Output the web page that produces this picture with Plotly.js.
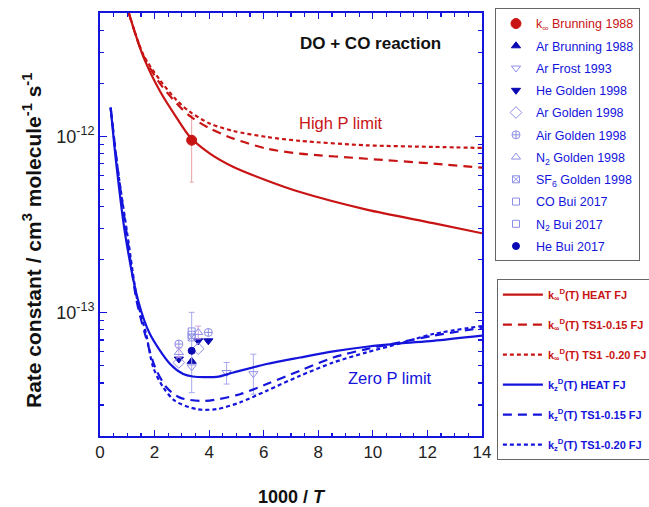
<!DOCTYPE html>
<html>
<head>
<meta charset="utf-8">
<script src="https://cdn.plot.ly/plotly-3.0.1.min.js"></script>
<style>html,body{margin:0;padding:0;background:#fff;}#chart{width:649px;height:507px;}</style>
</head>
<body>
<div id="chart"></div>
<script>
// ---------- theory curves: high-pressure limit (k_inf) ----------
const xRed = [1.04, 1.59, 2.20, 2.81, 3.30, 4.03, 4.89, 6.11, 7.33, 9.77, 12.21, 14.0];
const kInfHeat = [5.09e-12, 2.82e-12, 1.80e-12, 1.273e-12, 9.91e-13, 7.98e-13, 6.70e-13, 5.62e-13, 4.83e-13, 3.84e-13, 3.22e-13, 2.82e-13];
const kInfTS015 = [5.09e-12, 2.86e-12, 1.99e-12, 1.535e-12, 1.30e-12, 1.107e-12, 9.70e-13, 8.51e-13, 7.98e-13, 7.46e-13, 7.00e-13, 6.64e-13];
const kInfTS020 = [5.09e-12, 2.90e-12, 2.08e-12, 1.60e-12, 1.374e-12, 1.180e-12, 1.072e-12, 9.91e-13, 9.42e-13, 8.89e-13, 8.71e-13, 8.59e-13];

// ---------- theory curves: zero-pressure limit (k_z) ----------
const xZHeat = [0.39, 0.61, 0.92, 1.40, 1.83, 2.57, 3.05, 3.40, 4.28, 4.89, 6.11, 7.33, 8.55, 9.77, 10.99, 12.21, 14.0];
const kZHeat = [1.455e-12, 6.70e-13, 2.80e-13, 1.17e-13, 7.57e-14, 5.12e-14, 4.49e-14, 4.35e-14, 4.33e-14, 4.58e-14, 5.12e-14, 5.57e-14, 6.03e-14, 6.41e-14, 6.70e-14, 6.93e-14, 7.41e-14];
const xZTS015 = [0.39, 0.64, 0.98, 1.34, 1.65, 2.02, 2.44, 2.93, 3.85, 5.13, 6.11, 7.33, 8.55, 9.77, 10.99, 12.21, 14.0];
const kZTS015 = [1.455e-12, 6.70e-13, 2.80e-13, 1.17e-13, 7.57e-14, 4.90e-14, 3.77e-14, 3.30e-14, 3.16e-14, 3.45e-14, 3.94e-14, 4.69e-14, 5.57e-14, 6.22e-14, 6.79e-14, 7.40e-14, 8.22e-14];
const xZTS020 = [0.39, 0.64, 1.00, 1.37, 1.69, 1.95, 2.32, 2.75, 3.54, 4.28, 5.13, 6.11, 7.33, 8.55, 9.77, 10.99, 12.21, 14.0];
const kZTS020 = [1.455e-12, 6.70e-13, 2.80e-13, 1.17e-13, 7.57e-14, 4.90e-14, 3.77e-14, 3.16e-14, 2.84e-14, 2.84e-14, 3.10e-14, 3.61e-14, 4.39e-14, 5.22e-14, 5.96e-14, 6.70e-14, 7.57e-14, 8.41e-14];

// ---------- experimental data ----------
const kinfBrunningX = [3.36];
const kinfBrunningY = [9.5e-13];
const kinfBrunningHi = [1.31e-12];
const kinfBrunningLo = [5.5e-13];

const arBrunningX = [3.36];
const arBrunningY = [5.3e-14];

const arFrostX = [3.36, 4.64, 5.62];
const arFrostY = [4.93e-14, 4.58e-14, 4.51e-14];
const arFrostHi = [1.005e-13, 5.22e-14, 5.82e-14];
const arFrostLo = [3.52e-14, 3.94e-14, 3.45e-14];

const heGoldenX = [2.89, 3.60, 3.97];
const heGoldenY = [5.46e-14, 6.93e-14, 6.93e-14];

const arGoldenX = [2.89, 3.60];
const arGoldenY = [5.22e-14, 6.25e-14];

const airGoldenX = [2.89, 3.97];
const airGoldenY = [6.64e-14, 7.73e-14];

const n2GoldenX = [2.89, 3.60];
const n2GoldenY = [5.95e-14, 7.73e-14];
const n2GoldenHi = [6.3e-14, 8.4e-14];
const n2GoldenLo = [5.6e-14, 7.1e-14];

const sf6GoldenX = [3.36];
const sf6GoldenY = [7.24e-14];

const coBuiX = [3.36];
const coBuiY = [7.83e-14];

const n2BuiX = [3.36];
const n2BuiY = [7.5e-14];

const heBuiX = [3.36];
const heBuiY = [6.08e-14];

// ---------- labels ----------
const xTickVals = [0, 2, 4, 6, 8, 10, 12, 14];
const yTickVals = [1e-13, 1e-12];
const yTickText = ['10<sup>-13</sup>', '10<sup>-12</sup>'];
const yMinorVals = [2e-14, 3e-14, 4e-14, 5e-14, 6e-14, 7e-14, 8e-14, 9e-14,
                    2e-13, 3e-13, 4e-13, 5e-13, 6e-13, 7e-13, 8e-13, 9e-13,
                    2e-12, 3e-12, 4e-12, 5e-12];

const RED = '#c81414';
const BLUE = '#1414dc';
const DARKBLUE = '#0a0ab4';
const LIGHT = '#8f8fe6';
const FONT = 'Liberation Sans, Arial, sans-serif';

function errs(y, hi, lo) {
  return {
    type: 'data', symmetric: false,
    array: y.map((v, i) => hi[i] - v),
    arrayminus: y.map((v, i) => v - lo[i])
  };
}
let gid = 0;
function pts(name, x, y, symbol, color, size, extra) {
  gid++;
  return Object.assign({
    type: 'scatter', mode: 'markers', name: name, x: x, y: y,
    marker: {symbol: symbol, color: color, size: size, line: {color: color, width: 1}},
    legend: 'legend', legendgroup: 'g' + gid
  }, extra || {});
}
function line(name, x, y, color, dash) {
  gid++;
  return {
    type: 'scatter', mode: 'lines', name: name, x: x, y: y,
    line: {color: color, width: 2.2, dash: dash, shape: 'spline', smoothing: 0.8},
    legend: 'legend2', legendgroup: 'g' + gid
  };
}
const lbl = (c, t) => '<span style="color:' + c + '">' + t + '</span>';

const traces = [
  pts(lbl(RED, 'k<sub>∞</sub> Brunning 1988'), kinfBrunningX, kinfBrunningY, 'circle', RED, 10,
      {error_y: Object.assign(errs(kinfBrunningY, kinfBrunningHi, kinfBrunningLo), {color: '#e8a0a0', thickness: 1, width: 2})}),
  pts(lbl(BLUE, 'Ar Brunning 1988'), arBrunningX, arBrunningY, 'triangle-up', DARKBLUE, 8),
  pts(lbl(BLUE, 'Ar Frost 1993'), arFrostX, arFrostY, 'triangle-down-open', LIGHT, 8,
      {error_y: Object.assign(errs(arFrostY, arFrostHi, arFrostLo), {color: '#a8a8ee', thickness: 1, width: 3})}),
  pts(lbl(BLUE, 'He Golden 1998'), heGoldenX, heGoldenY, 'triangle-down', DARKBLUE, 8),
  pts(lbl(BLUE, 'Ar Golden 1998'), arGoldenX, arGoldenY, 'diamond-open', LIGHT, 9),
  pts(lbl(BLUE, 'Air Golden 1998'), airGoldenX, airGoldenY, 'circle-cross-open', LIGHT, 8),
  pts(lbl(BLUE, 'N<sub>2</sub> Golden 1998'), n2GoldenX, n2GoldenY, 'triangle-up-open', LIGHT, 8,
      {error_y: Object.assign(errs(n2GoldenY, n2GoldenHi, n2GoldenLo), {color: '#d0a0e0', thickness: 1, width: 3})}),
  pts(lbl(BLUE, 'SF<sub>6</sub> Golden 1998'), sf6GoldenX, sf6GoldenY, 'square-x-open', LIGHT, 7),
  pts(lbl(BLUE, 'CO Bui 2017'), coBuiX, coBuiY, 'square-open', LIGHT, 7),
  pts(lbl(BLUE, 'N<sub>2</sub> Bui 2017'), n2BuiX, n2BuiY, 'square-open', LIGHT, 7),
  pts(lbl(BLUE, 'He Bui 2017'), heBuiX, heBuiY, 'circle', DARKBLUE, 7),

  line(lbl(RED, '<b>k<sub>∞</sub><sup>D</sup>(T) HEAT FJ</b>'), xRed, kInfHeat, RED, 'solid'),
  line(lbl(RED, '<b>k<sub>∞</sub><sup>D</sup>(T) TS1-0.15 FJ</b>'), xRed, kInfTS015, RED, '9px,6px'),
  line(lbl(RED, '<b>k<sub>∞</sub><sup>D</sup>(T) TS1 -0.20 FJ</b>'), xRed, kInfTS020, RED, '4px,3px'),
  line(lbl(BLUE, '<b>k<sub>z</sub><sup>D</sup>(T) HEAT FJ</b>'), xZHeat, kZHeat, BLUE, 'solid'),
  line(lbl(BLUE, '<b>k<sub>z</sub><sup>D</sup>(T) TS1-0.15 FJ</b>'), xZTS015, kZTS015, BLUE, '9px,6px'),
  line(lbl(BLUE, '<b>k<sub>z</sub><sup>D</sup>(T) TS1-0.20 FJ</b>'), xZTS020, kZTS020, BLUE, '4px,3px')
];

const layout = {
  width: 649, height: 507,
  margin: {l: 100, r: 167, t: 13, b: 71, autoexpand: false},
  paper_bgcolor: '#fff', plot_bgcolor: '#fff',
  font: {family: FONT, size: 17, color: '#222'},
  showlegend: true,
  xaxis: {
    range: [0, 14], tickvals: xTickVals, ticks: 'inside', ticklen: 6, tickwidth: 1.2, tickcolor: BLUE,
    showline: true, linecolor: BLUE, linewidth: 2, mirror: 'allticks', showgrid: false, zeroline: false,
    tickfont: {size: 17, color: '#222'},
    minor: {dtick: 0.5, ticks: 'inside', ticklen: 3.5, tickcolor: BLUE, tickwidth: 1.2, showgrid: false},
    title: {text: '<b>1000 / <i>T</i></b>', font: {size: 18, color: '#111'}, standoff: 32}
  },
  yaxis: {
    type: 'log', range: [Math.log10(2e-14), Math.log10(5e-12)],
    tickmode: 'array', tickvals: yTickVals, ticktext: yTickText, ticks: 'inside', ticklen: 7, tickwidth: 1.2, tickcolor: BLUE,
    showline: true, linecolor: BLUE, linewidth: 2, mirror: 'allticks', showgrid: false, zeroline: false,
    tickfont: {size: 18, color: '#222'},
    minor: {tickmode: 'array', tickvals: yMinorVals, ticks: 'inside', ticklen: 4, tickcolor: BLUE, tickwidth: 1.2, showgrid: false}
  },
  legend: {
    x: 1.034, xanchor: 'left', y: 1.012, yanchor: 'top',
    bordercolor: '#666', borderwidth: 1, bgcolor: '#fff',
    font: {family: FONT, size: 12.5, color: BLUE},
    traceorder: 'grouped', tracegroupgap: 3,
    itemclick: false
  },
  legend2: {
    x: 1.039, xanchor: 'left', y: 0.371, yanchor: 'top',
    bordercolor: '#666', borderwidth: 1, bgcolor: '#fff',
    font: {family: FONT, size: 11, color: BLUE},
    traceorder: 'grouped', tracegroupgap: 11, itemwidth: 40,
    itemclick: false
  },
  annotations: [
    {xref: 'paper', yref: 'paper', x: 0.707, y: 0.929, xanchor: 'center', yanchor: 'middle',
     text: '<b>DO + CO reaction</b>', showarrow: false, font: {size: 17, color: '#111'}},
    {xref: 'paper', yref: 'paper', x: 0.631, y: 0.741, xanchor: 'center', yanchor: 'middle',
     text: 'High P limit', showarrow: false, font: {size: 16.5, color: RED}},
    {xref: 'paper', yref: 'paper', x: 0.758, y: 0.138, xanchor: 'center', yanchor: 'middle',
     text: 'Zero P limit', showarrow: false, font: {size: 16.5, color: BLUE}},
    {xref: 'paper', yref: 'paper', x: -0.178, y: 0.461, xanchor: 'center', yanchor: 'middle', textangle: -90,
     text: '<b>Rate constant / cm<sup>3</sup> molecule<sup>-1</sup> s<sup>-1</sup></b>', showarrow: false,
     font: {size: 21, color: '#111'}}
  ]
};

Plotly.newPlot('chart', traces, layout, {displayModeBar: false, staticPlot: true});
</script>
</body>
</html>
